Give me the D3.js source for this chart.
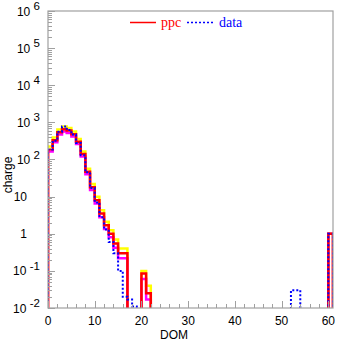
<!DOCTYPE html>
<html>
<head>
<meta charset="utf-8">
<script src="https://cdn.jsdelivr.net/npm/d3@7"></script>
<style>
  html, body { margin: 0; padding: 0; background: #fff; }
  svg { display: block; }
</style>
</head>
<body>
<svg id="chart" width="337" height="344"></svg>
<script>
// DOM bins 0..60, one unit wide
const domBins = d3.range(0, 61);

// simulated charge (ppc), with its upper / lower envelope
const ppc = [190, 330, 540, 650, 600, 480, 300, 140, 47, 18, 8, 3.5, 1.7, 1.0, 0.55, 0.3, 0.3, 0, 0, 0, 0.085, 0.025,
  0, 0, 0, 0, 0, 0, 0, 0, 0, 0, 0, 0, 0, 0, 0, 0, 0, 0, 0, 0, 0, 0, 0, 0, 0, 0, 0, 0, 0, 0, 0, 0, 0, 0, 0, 0, 0, 0, 1];
const ppcHi = [225, 390, 640, 770, 710, 565, 355, 165, 56, 22, 10, 4.3, 2.1, 1.25, 0.7, 0.4, 0.4, 0, 0, 0, 0.1, 0.04,
  0, 0, 0, 0, 0, 0, 0, 0, 0, 0, 0, 0, 0, 0, 0, 0, 0, 0, 0, 0, 0, 0, 0, 0, 0, 0, 0, 0, 0, 0, 0, 0, 0, 0, 0, 0, 0, 0, 1];
const ppcLo = [165, 290, 470, 570, 520, 415, 260, 120, 40, 15, 6.5, 2.8, 1.35, 0.8, 0.42, 0.22, 0.22, 0, 0, 0, 0.06, 0.017,
  0, 0, 0, 0, 0, 0, 0, 0, 0, 0, 0, 0, 0, 0, 0, 0, 0, 0, 0, 0, 0, 0, 0, 0, 0, 0, 0, 0, 0, 0, 0, 0, 0, 0, 0, 0, 0, 0, 1];
// observed charge
const data = [185, 320, 560, 780, 620, 470, 280, 130, 45, 17, 7, 2.8, 1.3, 0.6, 0.3, 0.1, 0.02, 0.017, 0.011, 0, 0, 0,
  0, 0, 0, 0, 0, 0, 0, 0, 0, 0, 0, 0, 0, 0, 0, 0, 0, 0, 0, 0, 0, 0, 0, 0, 0, 0, 0, 0, 0, 0, 0.03, 0.03, 0, 0, 0, 0, 0, 0, 1];

const xTicks = [0, 10, 20, 30, 40, 50, 60];
const yPowers = [-2, -1, 0, 1, 2, 3, 4, 5, 6];

const svg = d3.select("#chart");
const L = 48, R = 333, T = 11, B = 308;
const x = d3.scaleLinear().domain([0, 61]).range([L, R]);
const y = d3.scaleLog().domain([1e-2, 1e6]).range([B, T]);
const FLOOR = 1e-4;

svg.append("clipPath").attr("id", "plotclip")
  .append("rect").attr("x", L).attr("y", T).attr("width", R - L).attr("height", B - T);

// histogram outline: rises from below the axis, steps across each bin, drops back
function stepPoints(vals) {
  const pts = [[0, FLOOR]];
  vals.forEach((v, i) => pts.push([domBins[i], v > 0 ? v : FLOOR]));
  pts.push([domBins[domBins.length - 1] + 1, FLOOR]);
  return pts;
}
const stepLine = d3.line().x(d => x(d[0])).y(d => y(d[1])).curve(d3.curveStepAfter);

const plot = svg.append("g").attr("clip-path", "url(#plotclip)");
plot.append("path").attr("d", stepLine(stepPoints(ppcHi)))
  .attr("fill", "none").attr("stroke", "#ffff00").attr("stroke-width", 2.5);
plot.append("path").attr("d", stepLine(stepPoints(ppcLo)))
  .attr("fill", "none").attr("stroke", "#ff00ff").attr("stroke-width", 2.5);
plot.append("path").attr("d", stepLine(stepPoints(ppc)))
  .attr("fill", "none").attr("stroke", "#ff0000").attr("stroke-width", 2.5);
plot.append("path").attr("d", stepLine(stepPoints(data)))
  .attr("fill", "none").attr("stroke", "#0000ff").attr("stroke-width", 2)
  .attr("stroke-dasharray", "2,2");

// frame
const frameColor = "#a0a0a0";
svg.append("rect").attr("x", L).attr("y", T).attr("width", R - L).attr("height", B - T)
  .attr("fill", "none").attr("stroke", frameColor).attr("stroke-width", 1.2);

// left axis: log ticks pointing inward
const yt = d3.range(-2, 6)
  .flatMap(p => d3.range(1, 10).map(m => ({v: m * Math.pow(10, p), major: m === 1})))
  .concat([{v: 1e6, major: true}]);
const gy = svg.append("g");
gy.selectAll("line").data(yt).join("line")
  .attr("x1", L).attr("x2", d => L + (d.major ? 7 : 4))
  .attr("y1", d => Math.round(y(d.v)) + 0.5).attr("y2", d => Math.round(y(d.v)) + 0.5)
  .attr("stroke", frameColor).attr("stroke-width", 1);

// bottom axis ticks pointing up
const xt = d3.range(0, 61, 2).map(v => ({v, major: v % 10 === 0}));
const gx = svg.append("g");
gx.selectAll("line").data(xt).join("line")
  .attr("x1", d => Math.round(x(d.v)) + 0.5).attr("x2", d => Math.round(x(d.v)) + 0.5)
  .attr("y1", B).attr("y2", d => B - (d.major ? 7 : 4))
  .attr("stroke", frameColor).attr("stroke-width", 1);

const font = "'Liberation Sans', Arial, sans-serif";
gx.selectAll("text").data(xTicks).join("text")
  .attr("x", d => x(d)).attr("y", 325)
  .attr("text-anchor", "middle").attr("font-family", font).attr("font-size", 12)
  .text(d => d);

// y labels: 10^n with raised exponent, plain for 1 and 10
yPowers.forEach(p => {
  const yy = y(Math.pow(10, p)) + 4.5;
  if (p === 0 || p === 1) {
    svg.append("text").attr("x", 27).attr("y", yy).attr("text-anchor", "end")
      .attr("font-family", font).attr("font-size", 12).text(p === 0 ? "1" : "10");
  } else {
    const t = svg.append("text").attr("x", 40).attr("y", yy).attr("text-anchor", "end")
      .attr("font-family", font).attr("font-size", 12);
    t.append("tspan").text("10 ");
    t.append("tspan").attr("dy", -5.5).attr("font-size", 11.5).text(p);
  }
});

svg.append("text").attr("x", 174).attr("y", 339).attr("text-anchor", "middle")
  .attr("font-family", font).attr("font-size", 12).text("DOM");
svg.append("text").attr("transform", "translate(12,175) rotate(-90)").attr("text-anchor", "middle")
  .attr("font-family", font).attr("font-size", 12).text("charge");

// legend
const serif = "'Liberation Serif', 'Times New Roman', serif";
const lg = svg.append("g");
lg.append("line").attr("x1", 130).attr("x2", 156).attr("y1", 22.5).attr("y2", 22.5)
  .attr("stroke", "#ff0000").attr("stroke-width", 1.5);
lg.append("text").attr("x", 161).attr("y", 26.5).attr("font-family", serif).attr("font-size", 14)
  .attr("fill", "#ff0000").text("ppc");
lg.append("line").attr("x1", 187).attr("x2", 214).attr("y1", 22.5).attr("y2", 22.5)
  .attr("stroke", "#0000ff").attr("stroke-width", 1.5).attr("stroke-dasharray", "2,2");
lg.append("text").attr("x", 219).attr("y", 26.5).attr("font-family", serif).attr("font-size", 14)
  .attr("fill", "#0000ff").text("data");
</script>
</body>
</html>
